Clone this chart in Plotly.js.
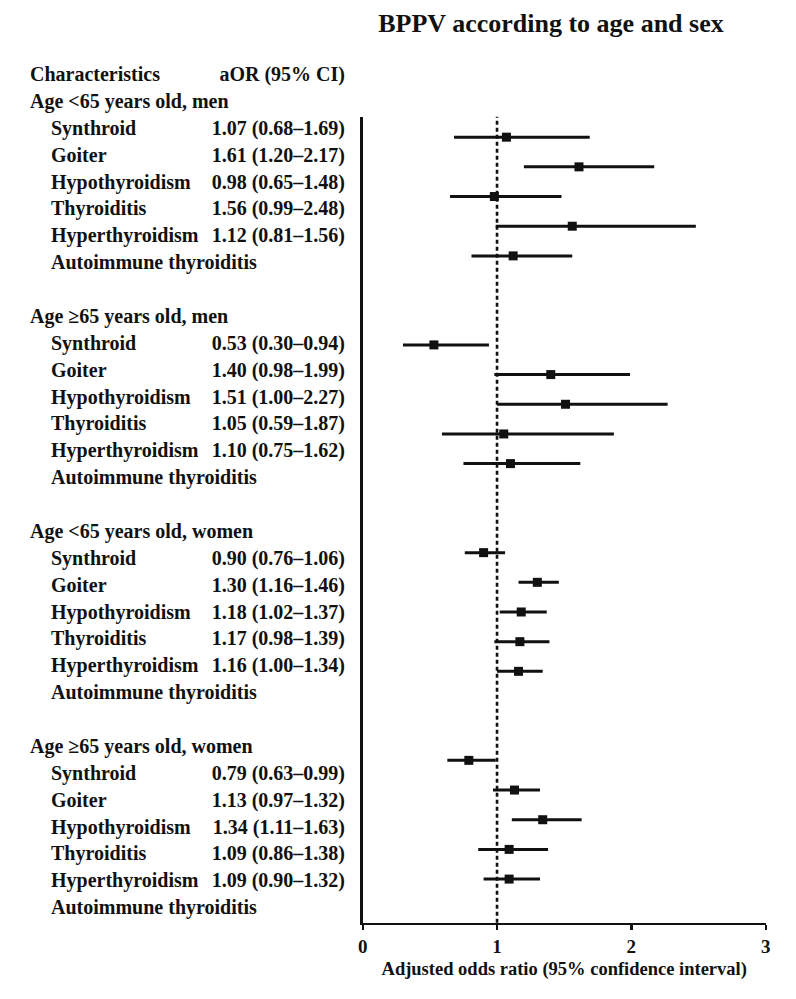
<!DOCTYPE html>
<html><head><meta charset="utf-8">
<script src="https://cdn.plot.ly/plotly-3.0.1.min.js"></script>
<style>html,body{margin:0;padding:0;background:#fff}#chart{width:796px;height:999px}</style>
</head><body><div id="chart"></div>
<script>
// ---- data ----
const chartTitle = "BPPV according to age and sex";
const xAxisTitle = "Adjusted odds ratio (95% confidence interval)";
const headerLeft = "Characteristics";
const headerRight = "aOR (95% CI)";
const groupNames = ["Age &lt;65 years old, men", "Age ≥65 years old, men", "Age &lt;65 years old, women", "Age ≥65 years old, women"];
const itemNames = ["Synthroid", "Goiter", "Hypothyroidism", "Thyroiditis", "Hyperthyroidism", "Autoimmune thyroiditis"];

const aorMenUnder65 = [1.07, 1.61, 0.98, 1.56, 1.12];
const lowMenUnder65 = [0.68, 1.20, 0.65, 0.99, 0.81];
const highMenUnder65 = [1.69, 2.17, 1.48, 2.48, 1.56];

const aorMenOver65 = [0.53, 1.40, 1.51, 1.05, 1.10];
const lowMenOver65 = [0.30, 0.98, 1.00, 0.59, 0.75];
const highMenOver65 = [0.94, 1.99, 2.27, 1.87, 1.62];

const aorWomenUnder65 = [0.90, 1.30, 1.18, 1.17, 1.16];
const lowWomenUnder65 = [0.76, 1.16, 1.02, 0.98, 1.00];
const highWomenUnder65 = [1.06, 1.46, 1.37, 1.39, 1.34];

const aorWomenOver65 = [0.79, 1.13, 1.34, 1.09, 1.09];
const lowWomenOver65 = [0.63, 0.97, 1.11, 0.86, 0.90];
const highWomenOver65 = [0.99, 1.32, 1.63, 1.38, 1.32];

const xTickVals = [0, 1, 2, 3];

// ---- build ----
const groupsAor = [aorMenUnder65, aorMenOver65, aorWomenUnder65, aorWomenOver65];
const groupsLow = [lowMenUnder65, lowMenOver65, lowWomenUnder65, lowWomenOver65];
const groupsHigh = [highMenUnder65, highMenOver65, highWomenUnder65, highWomenOver65];

const FONT = "Liberation Serif, Times New Roman, serif";
const INK = "#111111";
const SLOTS_PER_GROUP = 7;   // forest rows per group
const ROWS_PER_GROUP = 8;    // label rows per group

const traces = [];
// forest points
const fx = [], fy = [], fplus = [], fminus = [];
groupsAor.forEach((arr, g) => {
  arr.forEach((v, i) => {
    fx.push(v);
    fy.push(g * SLOTS_PER_GROUP + i);
    fplus.push(+(groupsHigh[g][i] - v).toFixed(4));
    fminus.push(+(v - groupsLow[g][i]).toFixed(4));
  });
});
traces.push({
  type: "scatter", mode: "markers", x: fx, y: fy, xaxis: "x", yaxis: "y",
  marker: {symbol: "square", size: 9, color: INK},
  error_x: {type: "data", symmetric: false, array: fplus, arrayminus: fminus,
            width: 0, thickness: 3, color: INK},
  hoverinfo: "skip", showlegend: false, cliponaxis: false
});

// label column texts
const leftX = [], leftY = [], leftT = [];
const indentX = [], indentY = [], indentT = [];
const valX = [], valY = [], valT = [];
leftT.push(headerLeft); leftX.push(30); leftY.push(0);
valT.push(headerRight); valX.push(345); valY.push(0);
const fmt = v => v.toFixed(2);
groupNames.forEach((name, g) => {
  const base = 1 + g * ROWS_PER_GROUP;
  leftT.push(name); leftX.push(30); leftY.push(base);
  itemNames.forEach((it, i) => {
    indentT.push(it); indentX.push(51); indentY.push(base + 1 + i);
    if (i < groupsAor[g].length) {
      valT.push(fmt(groupsAor[g][i]) + " (" + fmt(groupsLow[g][i]) + "–" + fmt(groupsHigh[g][i]) + ")");
      valX.push(345); valY.push(base + 1 + i);
    }
  });
});
const tf = {family: FONT, size: 20, color: INK, weight: "bold"};
traces.push({type: "scatter", mode: "text", x: leftX, y: leftY, text: leftT, textposition: "middle right",
  textfont: tf, xaxis: "x2", yaxis: "y2", hoverinfo: "skip", showlegend: false, cliponaxis: false});
traces.push({type: "scatter", mode: "text", x: indentX, y: indentY, text: indentT, textposition: "middle right",
  textfont: tf, xaxis: "x2", yaxis: "y2", hoverinfo: "skip", showlegend: false, cliponaxis: false});
traces.push({type: "scatter", mode: "text", x: valX, y: valY, text: valT, textposition: "middle left",
  textfont: tf, xaxis: "x2", yaxis: "y2", hoverinfo: "skip", showlegend: false, cliponaxis: false});

const W = 796, H = 999;
const layout = {
  width: W, height: H,
  margin: {l: 0, r: 0, t: 0, b: 0, pad: 0},
  paper_bgcolor: "#ffffff", plot_bgcolor: "rgba(0,0,0,0)",
  showlegend: false,
  title: {text: chartTitle, x: 551 / W, xanchor: "center", y: 1 - 23 / H, yanchor: "middle",
          xref: "paper", yref: "container",
          font: {family: FONT, size: 26, color: INK, weight: "bold"}},
  xaxis: {domain: [362.7 / W, 765.7 / W], range: [0, 3], anchor: "y",
          showline: true, linecolor: INK, linewidth: 2.4, mirror: false,
          ticks: "outside", ticklen: 5, tickwidth: 2.4, tickcolor: INK,
          tickvals: xTickVals, ticktext: xTickVals.map(String),
          showgrid: false, zeroline: false,
          tickfont: {family: FONT, size: 19, color: INK, weight: "bold"},
          title: {text: xAxisTitle, standoff: 6, font: {family: FONT, size: 18.5, color: INK, weight: "bold"}},
          fixedrange: true},
  yaxis: {domain: [1 - 922.7 / H, 1 - 116.7 / H], range: [26.47, -0.69], anchor: "x",
          showline: true, linecolor: INK, linewidth: 2.4,
          showticklabels: false, ticks: "", showgrid: false, zeroline: false, fixedrange: true},
  xaxis2: {domain: [0, 1], range: [0, W], anchor: "y2", visible: false, fixedrange: true},
  yaxis2: {domain: [0, 1], range: [(H - 76) / 26.875, -76 / 26.875], anchor: "x2", visible: false, fixedrange: true},
  shapes: [{type: "line", xref: "x", yref: "y domain", x0: 1, x1: 1, y0: 0, y1: 1,
            line: {color: INK, width: 2.6, dash: "4px,3px"}, layer: "below"}]
};
Plotly.newPlot("chart", traces, layout, {staticPlot: true, displayModeBar: false});
</script></body></html>
